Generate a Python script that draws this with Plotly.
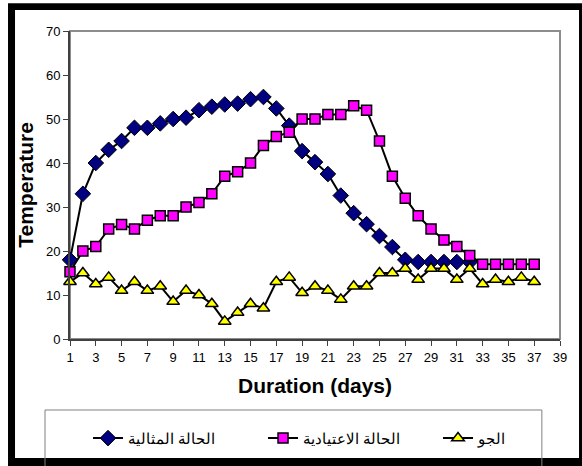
import plotly.graph_objects as go

days_ideal = list(range(1, 33))
ideal = [18, 33, 40, 43, 45, 48, 48, 49, 50, 50.3, 52, 52.8, 53.3, 53.5, 54.5, 55,
         52.4, 48.5, 42.7, 40.2, 37.5, 32.6, 28.6, 26.1, 23.4, 20.9, 18, 17.5,
         17.5, 17.5, 17.5, 17.5]

days_normal = list(range(1, 38))
normal = [15.3, 20, 21, 25, 26, 25, 27, 28, 28, 30, 31, 33, 37, 38, 40, 44, 46, 47,
          50, 50, 51, 51, 53, 52, 45, 37, 32, 28, 25, 22.5, 21, 19, 17, 17, 17, 17, 17]

days_air = list(range(1, 38))
air = [13, 15, 12.5, 14, 11, 13, 11, 12, 8.5, 11, 10, 8, 4, 6, 8, 7, 13, 14,
       10.5, 12, 11, 9, 12, 12, 15, 15, 16, 13.5, 16, 16, 13.5, 16, 12.5, 13.5,
       13, 14, 13]

names = ["الحالة المثالية", "الحالة الاعتيادية", "الجو"]

fig = go.Figure()
fig.add_trace(go.Scatter(x=days_ideal, y=ideal, name=names[0], mode="lines+markers",
                         line=dict(color="black", width=2), cliponaxis=False,
                         marker=dict(symbol="diamond", size=12, color="#000080",
                                     line=dict(color="black", width=1))))
fig.add_trace(go.Scatter(x=days_normal, y=normal, name=names[1], mode="lines+markers",
                         line=dict(color="black", width=2), cliponaxis=False,
                         marker=dict(symbol="square", size=10, color="#FF00FF",
                                     line=dict(color="black", width=1.5))))
fig.add_trace(go.Scatter(x=days_air, y=air, name=names[2], mode="lines+markers",
                         line=dict(color="black", width=2), cliponaxis=False,
                         marker=dict(symbol="triangle-up", size=11, color="#FFFF00",
                                     line=dict(color="black", width=1.5))))

# black paper = thick frame; white inside it and white strips outside it
white = dict(fillcolor="white", line=dict(width=0), layer="below",
             xref="paper", yref="paper", type="rect")
fig.add_shape(x0=-0.1122, x1=1.0388, y0=-0.3864, y1=1.0682, **white)
fig.add_shape(x0=-0.15, x1=-0.1265, y0=-0.42, y1=1.11, **white)
fig.add_shape(x0=-0.15, x1=1.06, y0=1.0899, y1=1.11, **white)

# plot area border and legend frame
fig.add_shape(type="rect", xref="paper", yref="paper", x0=0, x1=1, y0=0, y1=1,
              line=dict(color="#8c8c8c", width=2), layer="below")
fig.add_shape(type="rect", xref="paper", yref="paper", x0=-0.051, x1=0.963,
              y0=-0.43, y1=-0.2305, line=dict(color="#808080", width=1))

fig.update_layout(
    width=582, height=466,
    margin=dict(l=70, r=22, t=31, b=127, autoexpand=False),
    paper_bgcolor="black", plot_bgcolor="white",
    font=dict(family="Arial", size=13, color="black"),
    showlegend=True,
    legend=dict(orientation="h", x=-0.002, y=-0.322, xanchor="left", yanchor="middle",
                entrywidth=130, borderwidth=19, bordercolor="rgba(0,0,0,0)",
                font=dict(size=14.5), bgcolor="rgba(0,0,0,0)"),
    xaxis=dict(range=[1, 39], tick0=1, dtick=2, showgrid=False, zeroline=False,
               showline=True, linecolor="#404040", linewidth=2,
               ticks="outside", ticklen=5, tickcolor="#404040", tickwidth=1,
               title=dict(text="<b>Duration (days)</b>", font=dict(size=21), standoff=15)),
    yaxis=dict(range=[0, 70], dtick=10, showgrid=False, zeroline=False,
               showline=True, linecolor="#404040", linewidth=2,
               ticks="outside", ticklen=5, tickcolor="#404040", tickwidth=1,
               title=dict(text="<b>Temperature</b>", font=dict(size=21), standoff=7)),
)

fig.write_html("out.html", config={"displayModeBar": False},
               post_script="document.body.style.margin='0';")
